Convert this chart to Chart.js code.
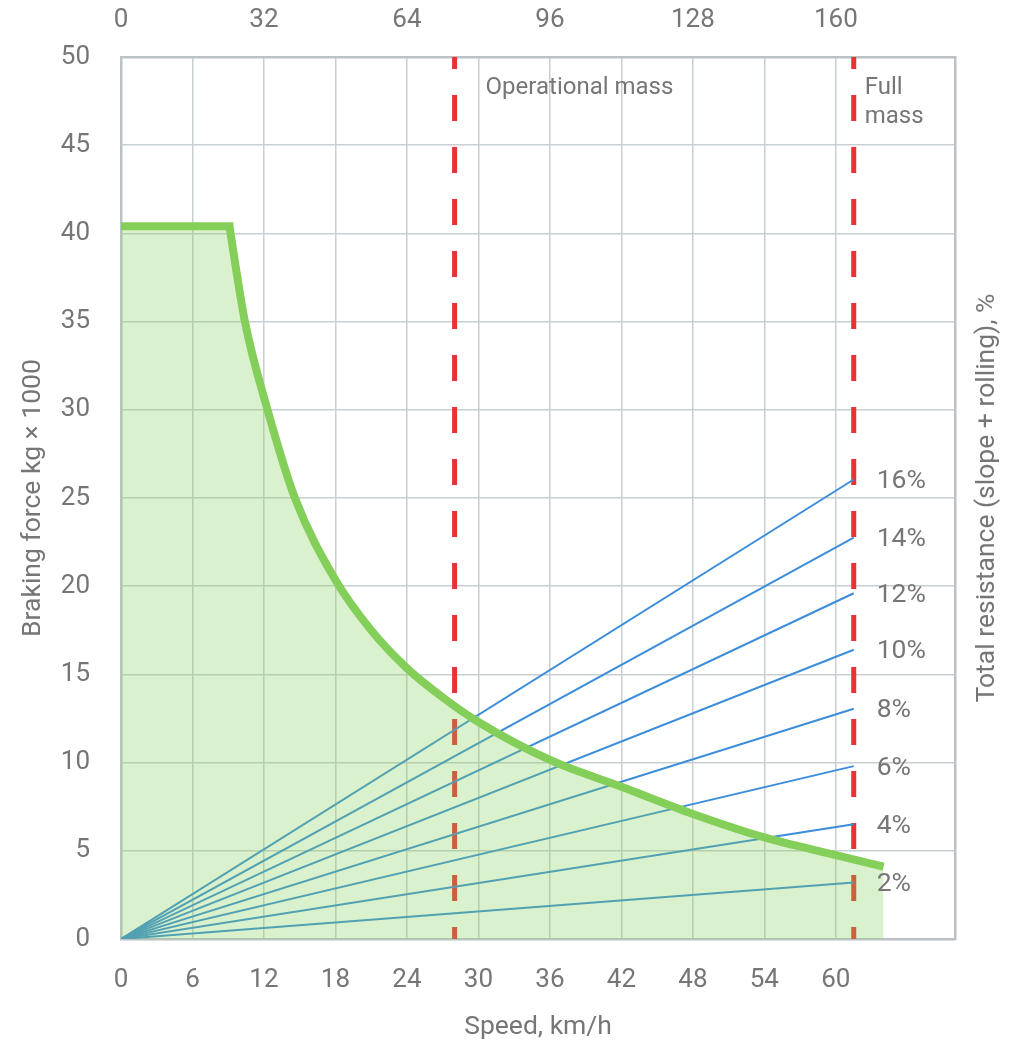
<!DOCTYPE html>
<html lang="en">
<head>
<meta charset="utf-8">
<title>Braking force vs speed</title>
<script src="https://cdn.jsdelivr.net/npm/chart.js@4.4.1/dist/chart.umd.min.js"></script>
<style>
    html, body { margin: 0; padding: 0; background: #fff; }
    #caja { width: 1016px; height: 1042px; position: relative; }
</style>
</head>
<body>
<div id="caja"><canvas id="grafico"></canvas></div>
<script>
// Marcas de los ejes
const velocidadTicks = [0, 6, 12, 18, 24, 30, 36, 42, 48, 54, 60];
const velocidadSuperiorTicks = [0, 32, 64, 96, 128, 160];
const fuerzaTicks = [0, 5, 10, 15, 20, 25, 30, 35, 40, 45, 50];
const velocidadMax = 70;

// Curva de frenado (tramo plano y tramo descendente), kg x 1000
const mesetaVelocidad = [0, 9.1];
const mesetaFuerza = [40.4, 40.4];
const curvaVelocidad = [9.1, 10.4, 12.3, 14.6, 18, 21, 24, 27, 30, 36, 42, 48, 54, 60, 64];
const curvaFuerza = [40.4, 35, 30, 25, 20.35, 17.5, 15.35, 13.7, 12.3, 10.15, 8.63, 7.09, 5.76, 4.76, 4.1];

// Rectas de resistencia total (pendiente + rodadura)
const pendientes = ['2%', '4%', '6%', '8%', '10%', '12%', '14%', '16%'];
const resistenciaFinal = [3.2, 6.5, 9.8, 13.05, 16.4, 19.6, 22.75, 26.05];
const velocidadFinalRectas = 61.5;

// Líneas de masa
const marcasVelocidad = [28, 61.5];
const marcasTexto = [['Operational mass'], ['Full', 'mass']];

const verde = 'rgb(132, 207, 90)';
const rellenoVerde = 'rgba(132, 207, 90, 0.3)';
const azul = 'rgb(60, 141, 218)';
const rojo = 'rgb(233, 50, 50)';
const texto = 'rgb(118, 118, 118)';
const rejilla = 'rgb(200, 207, 211)';
const borde = 'rgb(186, 194, 198)';

Chart.defaults.font.family = 'Roboto';

const juntar = (xs, ys) => xs.map((x, i) => ({ x: x, y: ys[i] }));

// el relleno va en un dataset aparte para que no quede una costura en el quiebre
const relleno = juntar(mesetaVelocidad, mesetaFuerza).concat(juntar(curvaVelocidad, curvaFuerza).slice(1));

const datasets = [
    {
        data: juntar(curvaVelocidad, curvaFuerza),
        borderColor: verde,
        borderWidth: 8,
        fill: false,
        cubicInterpolationMode: 'monotone',
        pointRadius: 0
    },
    {
        data: juntar(mesetaVelocidad, mesetaFuerza),
        borderColor: verde,
        borderWidth: 8,
        borderCapStyle: 'square',
        fill: false,
        pointRadius: 0
    },
    {
        data: relleno,
        borderWidth: 0,
        borderColor: 'rgba(0, 0, 0, 0)',
        backgroundColor: rellenoVerde,
        fill: 'origin',
        pointRadius: 0
    }
];

resistenciaFinal.forEach(valor => {
    datasets.push({
        data: [{ x: 0, y: 0 }, { x: velocidadFinalRectas, y: valor }],
        borderColor: azul,
        borderWidth: 2,
        fill: false,
        pointRadius: 0
    });
});

marcasVelocidad.forEach(v => {
    datasets.push({
        data: [{ x: v, y: fuerzaTicks[fuerzaTicks.length - 1] }, { x: v, y: 0 }],
        borderColor: rojo,
        borderWidth: 5,
        borderDash: [26, 26],
        borderDashOffset: 14,
        fill: false,
        pointRadius: 0
    });
});

// Textos sobre el gráfico: porcentajes, masas y título derecho
const rotulos = {
    id: 'rotulos',
    afterDraw(chart) {
        const { ctx, chartArea, scales } = chart;
        ctx.save();
        ctx.fillStyle = texto;
        ctx.textBaseline = 'middle';
        ctx.textAlign = 'left';

        ctx.font = '26.5px Roboto';
        pendientes.forEach((p, i) => {
            const meta = chart.getDatasetMeta(3 + i);
            const fin = meta.data[meta.data.length - 1];
            ctx.fillText(p, fin.x + 23, fin.y + 2);
        });

        ctx.font = '24px Roboto';
        marcasTexto.forEach((lineas, i) => {
            const x = scales.x.getPixelForValue(marcasVelocidad[i]) + (i === 0 ? 31 : 11);
            lineas.forEach((l, j) => {
                ctx.fillText(l, x, chartArea.top + 31 + j * 28.5);
            });
        });

        ctx.translate(chartArea.right + 32, (chartArea.top + chartArea.bottom) / 2);
        ctx.rotate(-Math.PI / 2);
        ctx.textAlign = 'center';
        ctx.font = '26.5px Roboto';
        ctx.fillText('Total resistance (slope + rolling), %', 0, 0);
        ctx.restore();
    }
};

const fuenteTicks = { family: 'Roboto', size: 26 };
const fuenteTitulo = { family: 'Roboto', size: 26.5 };

new Chart(document.getElementById('grafico'), {
    type: 'line',
    data: { datasets: datasets },
    plugins: [rotulos],
    options: {
        responsive: true,
        maintainAspectRatio: false,
        animation: false,
        events: [],
        layout: { padding: 0 },
        plugins: {
            legend: { display: false },
            tooltip: { enabled: false }
        },
        scales: {
            x: {
                type: 'linear',
                position: 'bottom',
                min: 0,
                max: velocidadMax,
                afterBuildTicks: eje => { eje.ticks = velocidadTicks.map(v => ({ value: v })); },
                afterFit: eje => { eje.height = 103; },
                grid: { color: rejilla, lineWidth: 1.5, drawTicks: false },
                border: { color: borde, width: 2.5 },
                ticks: { color: texto, font: fuenteTicks, padding: 26, autoSkip: false, maxRotation: 0 },
                title: {
                    display: true,
                    text: 'Speed, km/h',
                    color: texto,
                    font: fuenteTitulo,
                    padding: { top: 0, bottom: -1 }
                }
            },
            x2: {
                type: 'linear',
                position: 'top',
                min: 0,
                max: velocidadMax * velocidadSuperiorTicks[5] / velocidadTicks[10],
                afterBuildTicks: eje => { eje.ticks = velocidadSuperiorTicks.map(v => ({ value: v })); },
                afterFit: eje => { eje.height = 57; },
                grid: { display: false, drawTicks: false },
                border: { color: borde, width: 2.5 },
                ticks: { color: texto, font: fuenteTicks, padding: 20.5, autoSkip: false, maxRotation: 0 }
            },
            y: {
                type: 'linear',
                position: 'left',
                min: 0,
                max: 50,
                afterBuildTicks: eje => { eje.ticks = fuerzaTicks.map(v => ({ value: v })); },
                afterFit: eje => { eje.width = 121; },
                grid: { color: rejilla, lineWidth: 1.5, drawTicks: false },
                border: { color: borde, width: 2.5 },
                ticks: { color: texto, font: fuenteTicks, padding: 31 },
                title: {
                    display: true,
                    text: 'Braking force kg × 1000',
                    color: texto,
                    font: fuenteTitulo,
                    padding: { top: 17, bottom: 0 }
                }
            },
            y2: {
                type: 'linear',
                position: 'right',
                min: 0,
                max: 50,
                afterFit: eje => { eje.width = 61; },
                grid: { display: false, drawTicks: false },
                border: { color: borde, width: 2.5 },
                ticks: { display: false }
            }
        }
    }
});
</script>
</body>
</html>
